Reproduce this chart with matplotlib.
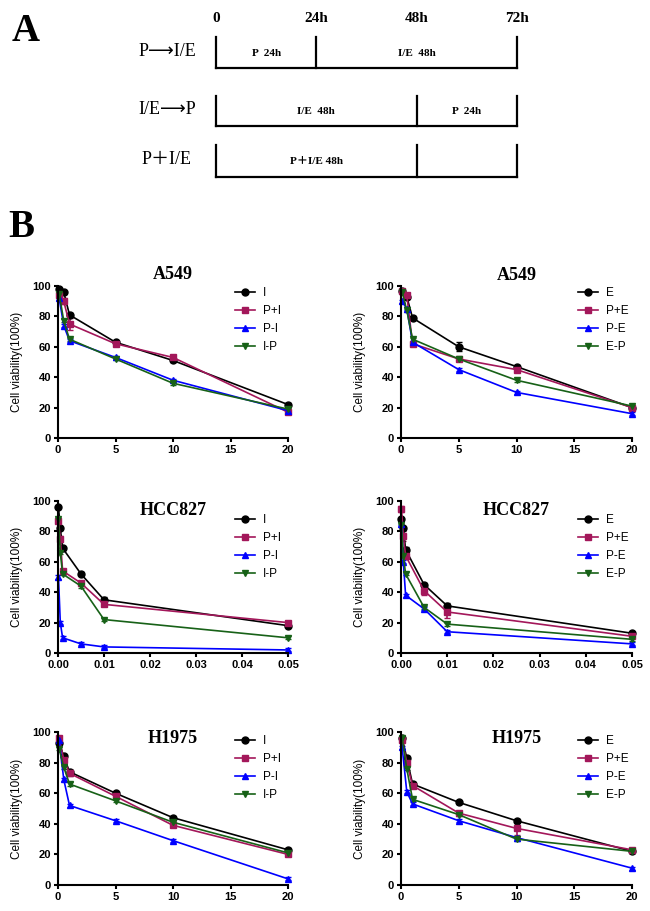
import matplotlib.pyplot as plt
import numpy as np

plt.rcParams['font.family'] = ['Liberation Sans', 'DejaVu Sans']
SERIF = ['Liberation Serif', 'DejaVu Sans', 'Noto Sans CJK SC']

# ---- panel A: treatment schedule ----
hours = [0, 24, 48, 72]
hour_labels = ['0', '24h', '48h', '72h']
schemes = ['P⟶I/E', 'I/E⟶P', 'P＋I/E']
segments = [
    [(0, 24, 'P  24h'), (24, 72, 'I/E  48h')],
    [(0, 48, 'I/E  48h'), (48, 72, 'P  24h')],
    [(0, 48, 'P＋I/E 48h'), (48, 72, '')],
]

# ---- panel B: viability curves ----
conc_a = [0.1, 0.5, 1, 5, 10, 20]               # A549 / H1975
conc_h = [0.0001, 0.0005, 0.001, 0.005, 0.01, 0.05]  # HCC827

a549_I = {'I': [98, 96, 81, 63, 51, 22], 'P+I': [94, 90, 75, 62, 53, 17],
          'P-I': [92, 74, 64, 53, 38, 18], 'I-P': [95, 77, 65, 52, 36, 19]}
a549_I_err = {'I': [1, 1, 1, 1, 1, 1], 'P+I': [2, 2, 4, 1, 1, 1],
              'P-I': [1, 1, 1, 1, 1, 1], 'I-P': [1, 1, 1, 1, 1, 1]}
a549_E = {'E': [97, 93, 79, 60, 47, 20], 'P+E': [97, 94, 62, 52, 45, 20],
          'P-E': [90, 85, 63, 45, 30, 16], 'E-P': [96, 84, 65, 52, 38, 21]}
a549_E_err = {'E': [1, 1, 1, 3, 1, 1], 'P+E': [1, 1, 1, 1, 1, 1],
              'P-E': [1, 1, 1, 1, 1, 1], 'E-P': [1, 1, 1, 1, 1, 1]}
hcc_I = {'I': [96, 82, 69, 52, 35, 18], 'P+I': [87, 75, 54, 46, 32, 20],
         'P-I': [50, 20, 10, 6, 4, 2], 'I-P': [88, 66, 52, 44, 22, 10]}
hcc_I_err = {'I': [1, 1, 1, 1, 2, 1], 'P+I': [1, 2, 1, 1, 1, 1],
             'P-I': [1, 1, 1, 1, 1, 1], 'I-P': [1, 1, 1, 1, 1, 1]}
hcc_E = {'E': [88, 82, 68, 45, 31, 13], 'P+E': [95, 77, 64, 41, 27, 11],
         'P-E': [85, 60, 38, 29, 14, 6], 'E-P': [84, 64, 52, 30, 19, 9]}
hcc_E_err = {'E': [1, 1, 2, 1, 2, 1], 'P+E': [2, 3, 2, 3, 4, 1],
             'P-E': [1, 1, 1, 1, 1, 1], 'E-P': [1, 1, 1, 1, 1, 1]}
h1975_I = {'I': [93, 84, 74, 60, 44, 23], 'P+I': [96, 82, 73, 58, 39, 20],
           'P-I': [95, 69, 52, 42, 29, 4], 'I-P': [89, 77, 66, 55, 41, 21]}
h1975_I_err = {'I': [1, 1, 1, 1, 1, 1], 'P+I': [1, 2, 2, 2, 1, 1],
               'P-I': [1, 1, 1, 1, 1, 1], 'I-P': [1, 1, 1, 1, 1, 1]}
h1975_E = {'E': [96, 83, 66, 54, 42, 22], 'P+E': [95, 80, 65, 47, 37, 23],
           'P-E': [90, 61, 53, 42, 31, 11], 'E-P': [96, 76, 56, 46, 30, 22]}
h1975_E_err = {'E': [1, 1, 1, 1, 1, 1], 'P+E': [1, 1, 1, 1, 4, 1],
               'P-E': [1, 1, 1, 1, 1, 1], 'E-P': [1, 1, 1, 1, 1, 1]}

colors = ['black', '#a3175a', '#0000ff', '#176117']
markers = ['o', 's', '^', 'v']

W, H = 650, 911
fig = plt.figure(figsize=(W / 100, H / 100), dpi=100)

# panel A
axA = fig.add_axes([216 / W, 1 - 190 / H, (517 - 216) / W, 190 / H])
axA.set_xlim(0, 72)
axA.set_ylim(190, 0)
axA.axis('off')
row_top = [37, 96, 145]
row_bot = [68, 126, 177]
for h, lab in zip(hours, hour_labels):
    axA.text(h, 18, lab, ha='center', va='center', family=SERIF,
             fontweight='bold', fontsize=11)
for i, segs in enumerate(segments):
    t, b = row_top[i], row_bot[i]
    axA.plot([0, 72], [b, b], color='black', lw=1.6, clip_on=False)
    axA.plot([0, 0], [t, b], color='black', lw=1.6, clip_on=False)
    for s, e, lab in segs:
        axA.plot([e, e], [t, b], color='black', lw=1.6, clip_on=False)
        axA.text((s + e) / 2, (t + b) / 2 + 1, lab, ha='center', va='center',
                 family=SERIF, fontweight='bold', fontsize=8)
    axA.text(-0.163, (t + b) / 2 - 1, schemes[i], transform=axA.get_yaxis_transform(),
             ha='center', va='center', family=SERIF, fontsize=13)

fig.text(12 / W, 1 - 41 / H, 'A', family=SERIF, fontweight='bold', fontsize=28)
fig.text(8 / W, 1 - 237 / H, 'B', family=SERIF, fontweight='bold', fontsize=28)

panels = [
    ('A549', conc_a, a549_I, a549_I_err), ('A549', conc_a, a549_E, a549_E_err),
    ('HCC827', conc_h, hcc_I, hcc_I_err), ('HCC827', conc_h, hcc_E, hcc_E_err),
    ('H1975', conc_a, h1975_I, h1975_I_err), ('H1975', conc_a, h1975_E, h1975_E_err),
]
col_left = [58, 401]
col_w = [230, 231]
row_t = [286, 501, 732]
row_b = [438, 653, 885]
title_base = [[279, 280], [515, 515], [743, 743]]
leg_top = [287, 514, 735]
leg_left = [235, 578]

for k, (name, xs, data, errs) in enumerate(panels):
    r, c = divmod(k, 2)
    hgt = row_b[r] - row_t[r]
    ax = fig.add_axes([col_left[c] / W, 1 - row_b[r] / H, col_w[c] / W, hgt / H])
    handles = []
    for j, (lab, ys) in enumerate(data.items()):
        cont = ax.errorbar(xs, ys, yerr=errs[lab], color=colors[j], marker=markers[j],
                           ms=5, lw=1.2, capsize=2, elinewidth=1.2, label=lab)
        for art in [cont.lines[0]] + list(cont.lines[1]) + list(cont.lines[2]):
            art.set_clip_on(False)
        handles.append(cont.lines[0])
    xmax = xs[-1]
    ax.set_xlim(0, xmax)
    ax.set_ylim(0, 100)
    ax.set_yticks([0, 20, 40, 60, 80, 100])
    if xmax < 1:
        ax.set_xticks([0, 0.01, 0.02, 0.03, 0.04, 0.05])
        ax.set_xticklabels(['0.00', '0.01', '0.02', '0.03', '0.04', '0.05'])
    else:
        ax.set_xticks([0, 5, 10, 15, 20])
    for sp in ['top', 'right']:
        ax.spines[sp].set_visible(False)
    for sp in ['left', 'bottom']:
        ax.spines[sp].set_linewidth(1.5)
    ax.tick_params(direction='out', length=3, width=1.5, labelsize=8, pad=2)
    for tl in ax.get_xticklabels() + ax.get_yticklabels():
        tl.set_fontweight('bold')
    ax.set_ylabel('Cell viability(100%)', fontsize=8.5)
    ax.yaxis.set_label_coords(-35 / col_w[c], 0.5)
    ax.text(0.5, (row_b[r] - title_base[r][c]) / hgt, name, transform=ax.transAxes,
            ha='center', va='baseline', family=SERIF, fontweight='bold', fontsize=13)
    ax.legend(handles, list(data.keys()), loc='upper left', frameon=False,
              fontsize=8.5, borderpad=0, borderaxespad=0, handlelength=1.7,
              handletextpad=0.7, labelspacing=0.5,
              bbox_to_anchor=((leg_left[c] - col_left[c]) / col_w[c],
                              (row_b[r] - leg_top[r]) / hgt))

fig.savefig('out.png', dpi=100)
